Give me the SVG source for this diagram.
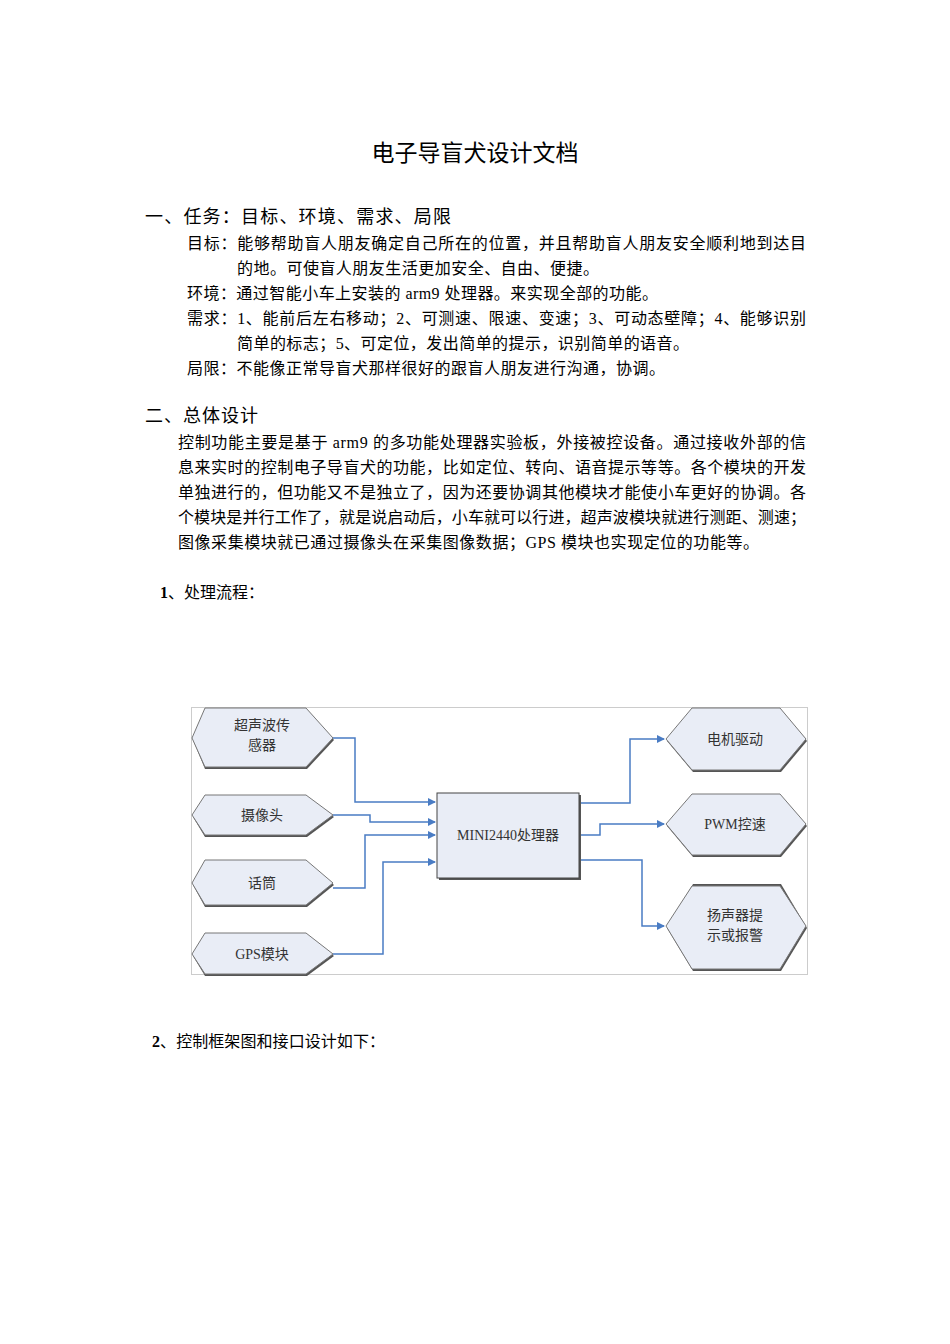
<svg xmlns="http://www.w3.org/2000/svg" width="950" height="1344" viewBox="0 0 950 1344">
<style>
text{font-family:"Liberation Serif","Noto Sans CJK SC",serif;fill:#000}
.b{font-size:16px}
.h{font-size:18px}
.n{font-size:14px;fill:#333}
.hex{fill:#e9edf6;stroke:#777;stroke-width:1}
.sh{fill:#555}
.c{fill:none;stroke:#4a7cc4;stroke-width:1.5}
</style>
<defs>
<marker id="a" markerWidth="8" markerHeight="8" refX="7" refY="4" orient="auto" markerUnits="userSpaceOnUse"><path d="M0,0L8,4L0,8z" fill="#4a7cc4"/></marker>
</defs>
<rect width="950" height="1344" fill="#fff"/>
<text x="475" y="161" font-size="23" text-anchor="middle" style="font-family:'Noto Sans CJK SC',sans-serif">电子导盲犬设计文档</text>
<text class="h" x="145" y="223" textLength="306">一、任务：目标、环境、需求、局限</text>
<text class="b" x="187" y="249" textLength="619">目标：能够帮助盲人朋友确定自己所在的位置，并且帮助盲人朋友安全顺利地到达目</text>
<text class="b" x="237" y="274" textLength="362">的地。可使盲人朋友生活更加安全、自由、便捷。</text>
<text class="b" x="187" y="299" textLength="471">环境：通过智能小车上安装的 arm9 处理器。来实现全部的功能。</text>
<text class="b" x="187" y="324" textLength="619">需求：1、能前后左右移动；2、可测速、限速、变速；3、可动态壁障；4、能够识别</text>
<text class="b" x="237" y="349" textLength="452">简单的标志；5、可定位，发出简单的提示，识别简单的语音。</text>
<text class="b" x="187" y="374" textLength="478">局限：不能像正常导盲犬那样很好的跟盲人朋友进行沟通，协调。</text>
<text class="h" x="145" y="422" textLength="113">二、总体设计</text>
<text class="b" x="178" y="448" textLength="628">控制功能主要是基于 arm9 的多功能处理器实验板，外接被控设备。通过接收外部的信</text>
<text class="b" x="178" y="473" textLength="628">息来实时的控制电子导盲犬的功能，比如定位、转向、语音提示等等。各个模块的开发</text>
<text class="b" x="178" y="498" textLength="628">单独进行的，但功能又不是独立了，因为还要协调其他模块才能使小车更好的协调。各</text>
<text class="b" x="178" y="523" textLength="628">个模块是并行工作了，就是说启动后，小车就可以行进，超声波模块就进行测距、测速；</text>
<text class="b" x="178" y="548" textLength="581">图像采集模块就已通过摄像头在采集图像数据；GPS 模块也实现定位的功能等。</text>
<text class="b" x="160" y="598"><tspan font-weight="bold">1</tspan>、处理流程：</text>
<text class="b" x="152" y="1047" textLength="233"><tspan font-weight="bold">2</tspan>、控制框架图和接口设计如下：</text>

<rect x="191.5" y="707.5" width="616" height="267" fill="#fff" stroke="#ccc"/>
<g id="connectors">
<path class="c" d="M333,738H355V802H435" marker-end="url(#a)"/>
<path class="c" d="M333,815H370V822H435" marker-end="url(#a)"/>
<path class="c" d="M333,888H365V835H435" marker-end="url(#a)"/>
<path class="c" d="M333,954H383V862H435" marker-end="url(#a)"/>
<path class="c" d="M580,803H630V739H664" marker-end="url(#a)"/>
<path class="c" d="M580,835H600V824H664" marker-end="url(#a)"/>
<path class="c" d="M580,860H642V926H664" marker-end="url(#a)"/>
</g>
<g id="n1"><polygon class="sh" points="205,710 307,710 334,740 307,769 205,769 193,740"/><polygon class="hex" points="192,738 205,708 306,708 333,738 306,767 205,767"/><text class="n" x="262" y="730" text-anchor="middle">超声波传</text><text class="n" x="262" y="750" text-anchor="middle">感器</text></g>
<g id="n2"><polygon class="sh" points="205,797 307,797 334,817 307,837 205,837 193,817"/><polygon class="hex" points="192,815 205,795 306,795 333,815 306,835 205,835"/><text class="n" x="262" y="820" text-anchor="middle">摄像头</text></g>
<g id="n3"><polygon class="sh" points="205,862 307,862 334,885 307,907 205,907 193,885"/><polygon class="hex" points="192,883 205,860 306,860 333,883 306,905 205,905"/><text class="n" x="262" y="888" text-anchor="middle">话筒</text></g>
<g id="n4"><polygon class="sh" points="205,935 307,935 334,956 307,976 205,976 193,956"/><polygon class="hex" points="192,954 205,933 306,933 333,954 306,974 205,974"/><text class="n" x="262" y="959" text-anchor="middle">GPS模块</text></g>
<g id="n5"><rect x="439" y="795" width="142" height="85" fill="#555"/><rect x="437" y="793" width="142" height="85" fill="#e9edf6" stroke="#444"/><text class="n" x="508" y="840" text-anchor="middle">MINI2440处理器</text></g>
<g id="n6"><polygon class="sh" points="693,710 781,710 807,741 781,772 693,772 667,741"/><polygon class="hex" points="666,739 692,708 780,708 806,739 780,770 692,770"/><text class="n" x="735" y="744" text-anchor="middle">电机驱动</text></g>
<g id="n7"><polygon class="sh" points="693,796 781,796 807,826 781,857 693,857 667,826"/><polygon class="hex" points="666,824 692,794 780,794 806,824 780,855 692,855"/><text class="n" x="735" y="829" text-anchor="middle">PWM控速</text></g>
<g id="n8"><polygon class="sh" points="693,884 781,884 807,928 781,971 693,971 667,928"/><polygon class="hex" points="666,926 692,886 780,886 806,926 780,969 692,969"/><text class="n" x="735" y="920" text-anchor="middle">扬声器提</text><text class="n" x="735" y="940" text-anchor="middle">示或报警</text></g>
</svg>
